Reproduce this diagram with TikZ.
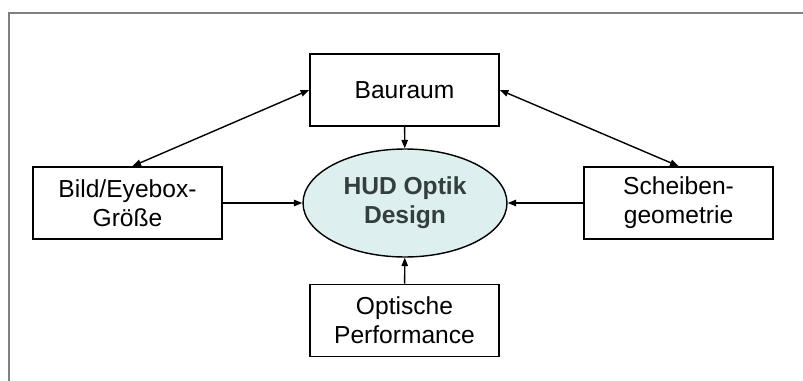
\documentclass[tikz,border=0pt]{standalone}
\usepackage{fontspec}
\setmainfont{Liberation Sans}
\usepackage{tikz}
\usetikzlibrary{arrows.meta}
\usetikzlibrary{shapes.geometric}
\usepackage{xcolor}
\definecolor{framegray}{RGB}{128,128,128}
\definecolor{hudfill}{RGB}{222,239,239}
\definecolor{hudtext}{RGB}{52,62,62}

\begin{document}
\begin{tikzpicture}[x=0.02cm,y=-0.02cm,
	box/.style={draw,line width=1pt,minimum width=3.78cm,minimum height=1.44cm,
		align=center,inner sep=0pt,font=\fontsize{14}{16.5}\selectfont},
	conn/.style={line width=0.8pt,-{Triangle[length=0.17cm,width=0.13cm]}},
	biconn/.style={line width=0.8pt,{Triangle[length=0.17cm,width=0.13cm]}-{Triangle[length=0.17cm,width=0.13cm]}}]
	\useasboundingbox (0,0) rectangle (803,381);
	\draw[framegray,line width=1.5pt] (9,381) -- (9,13) -- (803,13);
	
	\node[ellipse,draw,line width=0.8pt,fill=hudfill,minimum width=4.08cm,minimum height=2.16cm,
		inner sep=0pt,align=center,text=hudtext,font=\fontsize{14}{16.5}\selectfont\bfseries]
		at (405,203) (hud) {HUD Optik\\Design};
	\node[box] at (404.5,90) (bau) {Bauraum};
	\node[box] at (127.5,203) (bild) {Bild/Eyebox-\\Größe};
	\node[box] at (678.5,203) (scheibe) {Scheiben-\\geometrie};
	\node[box] at (404.5,320.5) (opt) {Optische\\Performance};
	
	\draw[biconn] (bau.west) -- ([xshift=0.1cm]bild.north);
	\draw[biconn] (bau.east) -- (scheibe.north);
	\draw[conn] (bau) -- (hud);
	\draw[conn] (bild) -- (hud);
	\draw[conn] (scheibe) -- (hud);
	\draw[conn] (opt) -- (hud);
\end{tikzpicture}
\end{document}
